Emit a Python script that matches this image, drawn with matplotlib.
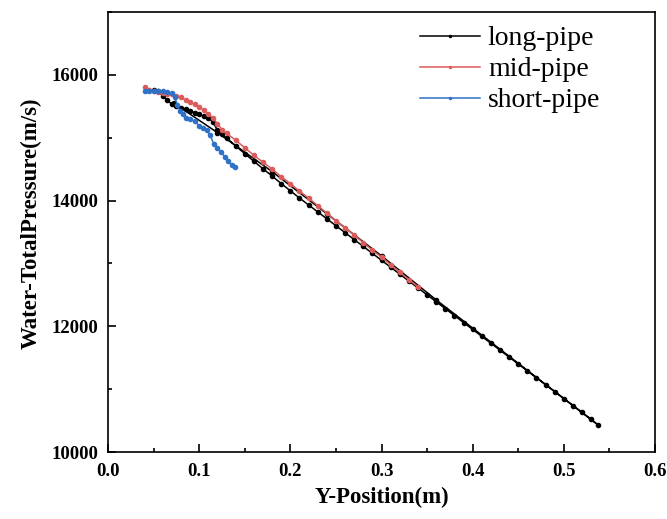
import matplotlib
matplotlib.use("Agg")
from matplotlib import pyplot as plt
from matplotlib.ticker import MultipleLocator

plt.rcParams['font.family'] = ['Liberation Serif', 'DejaVu Serif']

# long-pipe: dense band, then the exported points come back along a thin line
long_x = [0.050, 0.055, 0.060, 0.065, 0.070, 0.075, 0.080, 0.085, 0.090, 0.095,
          0.100, 0.105, 0.110, 0.115, 0.120, 0.125, 0.130, 0.140, 0.150, 0.160,
          0.170, 0.180, 0.190, 0.200, 0.210, 0.220, 0.230, 0.240, 0.250, 0.260,
          0.270, 0.280, 0.290, 0.300, 0.310, 0.320, 0.330, 0.340, 0.350, 0.360,
          0.370, 0.380, 0.390, 0.400, 0.410, 0.420, 0.430, 0.440, 0.450, 0.460,
          0.470, 0.480, 0.490, 0.500, 0.510, 0.520, 0.530, 0.538,
          0.360, 0.300, 0.240, 0.180, 0.120, 0.072]
long_y = [15760, 15750, 15660, 15600, 15530, 15500, 15470, 15450, 15420, 15400,
          15370, 15340, 15310, 15250, 15120, 15055, 14995, 14870, 14745, 14625,
          14505, 14390, 14270, 14155, 14040, 13930, 13820, 13710, 13600, 13490,
          13380, 13270, 13160, 13050, 12940, 12830, 12720, 12610, 12500, 12390,
          12280, 12170, 12060, 11950, 11840, 11730, 11620, 11510, 11400, 11290,
          11180, 11070, 10960, 10850, 10740, 10630, 10520, 10425,
          12420, 13120, 13790, 14460, 15080, 15550]

mid_x = [0.040, 0.045, 0.050, 0.055, 0.060, 0.065, 0.070, 0.075, 0.080, 0.085,
         0.090, 0.095, 0.100, 0.105, 0.110, 0.115, 0.120, 0.125, 0.130, 0.140,
         0.150, 0.160, 0.170, 0.180, 0.190, 0.200, 0.210, 0.220, 0.230, 0.240,
         0.250, 0.260, 0.270, 0.280, 0.290, 0.300, 0.310, 0.320, 0.330, 0.340]
mid_y = [15810, 15760, 15740, 15730, 15710, 15700, 15690, 15670, 15640, 15600,
         15560, 15530, 15490, 15440, 15380, 15310, 15220, 15130, 15070, 14960,
         14840, 14720, 14610, 14500, 14380, 14270, 14150, 14040, 13920, 13800,
         13680, 13570, 13450, 13330, 13210, 13100, 12980, 12860, 12740, 12630]

short_x = [0.040, 0.045, 0.050, 0.055, 0.060, 0.065, 0.070, 0.073, 0.076, 0.079,
           0.082, 0.086, 0.090, 0.095, 0.100, 0.104, 0.108, 0.112, 0.116, 0.120,
           0.124, 0.128, 0.132, 0.136, 0.139]
short_y = [15740, 15745, 15750, 15745, 15740, 15730, 15710, 15650, 15520, 15420,
           15370, 15310, 15290, 15260, 15190, 15150, 15120, 15040, 14900, 14840,
           14770, 14700, 14630, 14560, 14530]

fig = plt.figure(figsize=(6.67, 5.19), dpi=100)
ax = fig.add_axes([0.162, 0.129, 0.820, 0.848])

ax.plot(long_x, long_y, '-o', color='black', lw=1.1, ms=3, label='long-pipe')
ax.plot(mid_x, mid_y, '-o', color='#dc5c5c', lw=1.1, ms=3, label='mid-pipe')
ax.plot(short_x, short_y, '-o', color='#2f72c8', lw=1.1, ms=3, label='short-pipe')

ax.set_xlim(0, 0.6)
ax.set_ylim(10000, 17000)
ax.xaxis.set_major_locator(MultipleLocator(0.1))
ax.xaxis.set_minor_locator(MultipleLocator(0.05))
ax.yaxis.set_major_locator(MultipleLocator(2000))
ax.yaxis.set_minor_locator(MultipleLocator(1000))
ax.tick_params(which='both', direction='in', width=1.2)
ax.tick_params(which='major', length=6)
ax.tick_params(which='minor', length=3)
ax.tick_params(axis='x', pad=8)
ax.tick_params(axis='y', pad=7)
for lab in ax.get_xticklabels() + ax.get_yticklabels():
    lab.set_fontweight('bold')
    lab.set_fontsize(13.5)
for s in ax.spines.values():
    s.set_linewidth(1.2)

ax.set_xlabel('Y-Position(m)', fontsize=16.5, fontweight='bold')
ax.set_ylabel('Water-TotalPressure(m/s)', fontsize=16.5, fontweight='bold')
ax.xaxis.set_label_coords(0.5, -0.078)
ax.yaxis.set_label_coords(-0.122, 0.52)

ax.legend(loc='upper left', bbox_to_anchor=(0.57, 0.968), frameon=False,
          fontsize=20, handlelength=2.15, markerscale=0.5, labelspacing=0.2,
          handletextpad=0.3, borderpad=0, borderaxespad=0)

fig.savefig('out.png', dpi=100)
